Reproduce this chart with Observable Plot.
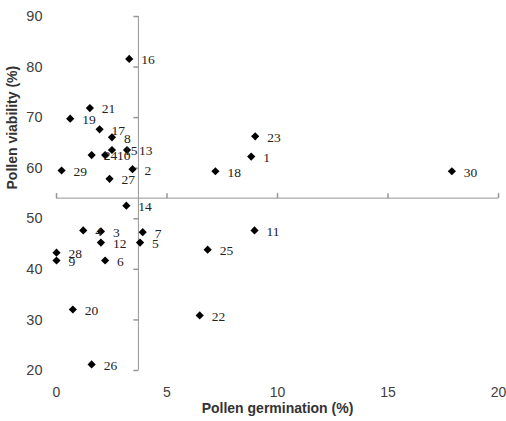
<!DOCTYPE html>
<html><head><meta charset="utf-8">
<script src="https://cdn.jsdelivr.net/npm/d3@7"></script>
<script src="https://cdn.jsdelivr.net/npm/@observablehq/plot@0.6"></script>
<style>body{margin:0;background:#fff}</style>
</head><body><div id="chart"></div>
<script>
const ids = [1,2,3,4,5,6,7,8,9,10,11,12,13,14,15,16,17,18,19,20,21,22,23,24,25,26,27,28,29,30];
const germination = [8.81,3.44,2.01,1.21,3.78,2.2,3.9,2.51,0,2.2,8.96,2.01,3.19,3.16,2.51,3.29,1.95,7.19,0.62,0.74,1.51,6.48,8.99,1.59,6.84,1.59,2.4,0,0.23,17.89];
const viability = [62.3,59.8,47.5,47.7,45.3,41.75,47.35,66.1,41.75,62.6,47.7,45.3,63.6,52.6,63.6,81.6,67.7,59.4,69.8,32.06,71.9,30.9,66.3,62.6,43.9,21.2,57.9,43.3,59.55,59.4];
const xTicks = [0,5,10,15,20];
const yTicks = [20,30,40,50,60,70,80,90];
const xLabel = "Pollen germination (%)";
const yLabel = "Pollen viability (%)";

const data = ids.map((id, i) => ({id, x: germination[i], y: viability[i]}));
const xCross = d3.mean(germination);
const yCross = d3.mean(viability);
const xDomain = d3.extent(xTicks);
const yDomain = d3.extent(yTicks);
const tickLeft = {draw(c) { c.moveTo(0, 0); c.lineTo(-5, 0); }};
const tickUp = {draw(c) { c.moveTo(0, 0); c.lineTo(0, -5); }};
const gray = "#969696";

const chart = Plot.plot({
  width: 506, height: 421,
  marginLeft: 56, marginRight: 8, marginTop: 16, marginBottom: 51,
  x: {domain: xDomain},
  y: {domain: yDomain},
  style: {fontFamily: "'Liberation Sans', Arial, sans-serif", fontSize: "14px", color: "#404040", background: "#fff"},
  marks: [
    Plot.axisX({ticks: xTicks, tickSize: 0, tickPadding: 17, label: null, fontSize: 14}),
    Plot.axisY({ticks: yTicks, tickSize: 0, tickPadding: 14, label: null, fontSize: 14.5}),
    Plot.ruleX([xCross], {y1: yDomain[0], y2: yDomain[1], stroke: gray, strokeWidth: 1}),
    Plot.ruleY([yCross], {x1: xDomain[0], x2: xDomain[1], stroke: gray, strokeWidth: 1}),
    Plot.dot(yTicks, {x: () => xCross, y: d => d, symbol: tickLeft, stroke: gray, fill: "none"}),
    Plot.dot(xTicks, {x: d => d, y: () => yCross, symbol: tickUp, stroke: gray, fill: "none"}),
    Plot.dot(data, {x: "x", y: "y", symbol: "diamond2", r: 3.7, fill: "#000", stroke: "none"}),
    Plot.text(data, {x: "x", y: "y", text: "id", dx: 12, dy: 1, textAnchor: "start", fontFamily: "'Liberation Serif', 'Times New Roman', serif", fontSize: 13.5, fill: "#222"}),
    Plot.text([xLabel], {frameAnchor: "bottom", dy: 42, fontWeight: "bold", fontSize: 14, fill: "#333"}),
    Plot.text([yLabel], {frameAnchor: "left", dx: -44, dy: -4, rotate: -90, fontWeight: "bold", fontSize: 14, fill: "#333"})
  ]
});
document.getElementById("chart").appendChild(chart);
</script>
</body></html>
